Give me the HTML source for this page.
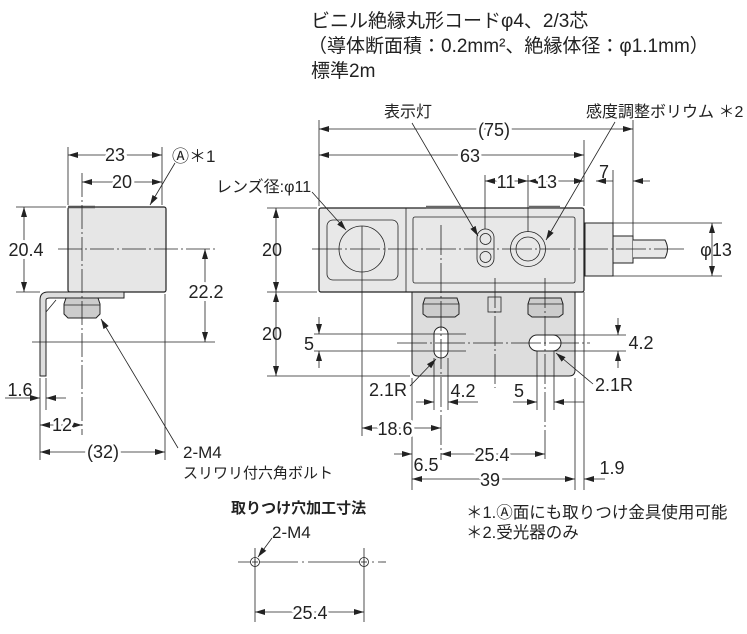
<!DOCTYPE html>
<html><head><meta charset="utf-8"><style>
html,body{margin:0;padding:0;background:#fff;}
svg{display:block;}
text{font-family:"Liberation Sans","Noto Sans CJK JP",sans-serif;fill:#222;}
.d{font-size:18px;text-anchor:middle;stroke:#fff;stroke-width:6px;paint-order:stroke;stroke-linejoin:round;}
</style></head><body>
<svg width="747" height="634" viewBox="0 0 747 634" xmlns="http://www.w3.org/2000/svg">
<defs>
<marker id="a" viewBox="0 0 10 6" refX="10" refY="3" markerWidth="10" markerHeight="6" orient="auto-start-reverse" markerUnits="userSpaceOnUse"><path d="M0,0L10,3L0,6z" fill="#222"/></marker>
</defs>
<g font-size="19">
<text x="311" y="27">ビニル絶縁丸形コードφ4、2/3芯</text>
<text x="308" y="52">（導体断面積：0.2mm²、絶縁体径：φ1.1mm）</text>
<text x="311" y="77">標準2m</text>
</g>

<!-- LEFT VIEW -->
<g stroke="#222" fill="none" stroke-width="0.8">
<rect x="68" y="207" width="98" height="85" rx="2" fill="#e6e6e6" stroke-width="1.2"/>
<line x1="68" y1="207" x2="95" y2="207" stroke-width="2.5" stroke="#555"/>
<path d="M46,376 L46,300 Q46,298 50,298 L124,298 L124,292 L48,292 Q40,292 40,300 L40,376 Z" fill="#ddd" stroke-width="1"/>
<line x1="46" y1="312" x2="56" y2="300"/>
<path d="M66,298 L98,298 L100,304 L100,314 L96,318 L68,318 L64,314 L64,304 Z" fill="#ccc" stroke-width="1"/>
<line x1="64" y1="305" x2="100" y2="305"/>
<line x1="82" y1="173" x2="82" y2="435" stroke-dasharray="24,3,2,3"/>
<line x1="58" y1="249" x2="215" y2="249" stroke-dasharray="24,3,2,3"/>
<line x1="68" y1="147" x2="68" y2="205"/>
<line x1="162" y1="147" x2="162" y2="205"/>
<line x1="68" y1="155" x2="162" y2="155" marker-start="url(#a)" marker-end="url(#a)"/>
<line x1="82" y1="182" x2="162" y2="182" marker-start="url(#a)" marker-end="url(#a)"/>
<line x1="16" y1="207" x2="66" y2="207"/>
<line x1="16" y1="292" x2="40" y2="292"/>
<line x1="24" y1="207" x2="24" y2="292" marker-start="url(#a)" marker-end="url(#a)"/>
<line x1="32" y1="342" x2="215" y2="342"/>
<line x1="205" y1="249" x2="205" y2="342" marker-start="url(#a)" marker-end="url(#a)"/>
<line x1="40" y1="378" x2="40" y2="460"/>
<line x1="46" y1="378" x2="46" y2="410"/>
<line x1="165" y1="294" x2="165" y2="460"/>
<line x1="5" y1="398" x2="40" y2="398" marker-end="url(#a)"/>
<line x1="66" y1="398" x2="46" y2="398" marker-end="url(#a)"/>
<line x1="40" y1="425" x2="82" y2="425" marker-start="url(#a)" marker-end="url(#a)"/>
<line x1="40" y1="452" x2="165" y2="452" marker-start="url(#a)" marker-end="url(#a)"/>
<line x1="175" y1="163" x2="150" y2="205" marker-end="url(#a)"/>
<line x1="178" y1="448" x2="101" y2="319" marker-end="url(#a)"/>
</g>
<text class="d" x="115" y="161">23</text>
<text class="d" x="122" y="188">20</text>
<text class="d" x="26" y="256">20.4</text>
<text class="d" x="206" y="298">22.2</text>
<text class="d" x="20" y="396" style="stroke:none">1.6</text>
<text class="d" x="62" y="431">12</text>
<text class="d" x="103" y="458">(32)</text>
<text x="172" y="162" font-size="17">Ⓐ＊1</text>
<text x="183" y="458" font-size="17">2-M4</text>
<text x="183" y="478" font-size="15">スリワリ付六角ボルト</text>

<!-- FRONT VIEW -->
<g stroke="#222" fill="none" stroke-width="0.8">
<path d="M412,292 L575,292 L575,370 Q575,376 569,376 L418,376 Q412,376 412,370 Z" fill="#ddd" stroke-width="1"/>
<rect x="319" y="208" width="265" height="84" rx="2" fill="#e8e8e8" stroke-width="1.2"/>
<line x1="426" y1="207" x2="460" y2="207" stroke-width="2.5" stroke="#666"/>
<line x1="529" y1="207" x2="560" y2="207" stroke-width="2.5" stroke="#666"/>
<line x1="406" y1="208" x2="406" y2="292"/>
<rect x="327" y="220" width="71" height="60" rx="6"/>
<circle cx="362" cy="249" r="23"/>
<rect x="413" y="217" width="162" height="66" rx="2"/>
<rect x="477" y="229" width="17" height="38" rx="8.5"/>
<circle cx="485.5" cy="239" r="5.5"/>
<circle cx="485.5" cy="257" r="5.5"/>
<circle cx="528" cy="249" r="17.5"/>
<circle cx="528" cy="249" r="12"/>
<rect x="585" y="223" width="28" height="53" fill="#e8e8e8" stroke-width="1"/>
<rect x="613" y="236" width="20" height="27" fill="#e8e8e8" stroke-width="1"/>
<path d="M633,240 L665,240 Q670,249 665,258 L633,258" fill="#e8e8e8" stroke-width="1"/>
<path d="M425,298 L457,298 L459,304 L459,314 L455,317 L427,317 L423,314 L423,304 Z" fill="#ccc" stroke-width="1"/>
<line x1="423" y1="304" x2="459" y2="304"/>
<path d="M530,298 L561,298 L563,304 L563,314 L559,317 L532,317 L528,314 L528,304 Z" fill="#ccc" stroke-width="1"/>
<line x1="528" y1="304" x2="563" y2="304"/>
<rect x="488" y="297" width="13" height="15" fill="#ddd"/>
<rect x="434" y="327" width="14" height="31" rx="7" fill="#fff" stroke-width="1"/>
<rect x="529" y="335" width="32" height="16" rx="8" fill="#fff" stroke-width="1"/>
<line x1="312" y1="249" x2="686" y2="249" stroke-dasharray="30,3,2,3"/>
<line x1="397" y1="343" x2="590" y2="343" stroke-dasharray="30,3,2,3"/>
<line x1="362" y1="226" x2="362" y2="436"/>
<line x1="441" y1="225" x2="441" y2="460" stroke-dasharray="30,3,2,3"/>
<line x1="495" y1="278" x2="495" y2="388" stroke-dasharray="30,3,2,3"/>
<line x1="545" y1="278" x2="545" y2="459" stroke-dasharray="30,3,2,3"/>
<line x1="434" y1="358" x2="434" y2="410"/>
<line x1="448" y1="358" x2="448" y2="410"/>
<line x1="537" y1="351" x2="537" y2="410"/>
<line x1="554" y1="351" x2="554" y2="410"/>
<line x1="412" y1="378" x2="412" y2="490"/>
<line x1="575" y1="378" x2="575" y2="490"/>
<line x1="584" y1="292" x2="584" y2="490"/>
<line x1="319" y1="120" x2="319" y2="206"/>
<line x1="584" y1="140" x2="584" y2="206"/>
<line x1="633" y1="120" x2="633" y2="236"/>
<line x1="613" y1="170" x2="613" y2="223"/>
<line x1="485" y1="175" x2="485" y2="229"/>
<line x1="528" y1="175" x2="528" y2="232"/>
<line x1="319" y1="129" x2="633" y2="129" marker-start="url(#a)" marker-end="url(#a)"/>
<line x1="319" y1="155" x2="584" y2="155" marker-start="url(#a)" marker-end="url(#a)"/>
<line x1="485" y1="181" x2="528" y2="181" marker-start="url(#a)" marker-end="url(#a)"/>
<line x1="528" y1="181" x2="584" y2="181" marker-start="url(#a)" marker-end="url(#a)"/>
<line x1="596" y1="181" x2="613" y2="181" marker-start="url(#a)"/>
<line x1="633" y1="181" x2="650" y2="181" marker-start="url(#a)"/>
<line x1="613" y1="223" x2="722" y2="223"/>
<line x1="613" y1="276" x2="722" y2="276"/>
<line x1="712" y1="223" x2="712" y2="276" marker-start="url(#a)" marker-end="url(#a)"/>
<line x1="412" y1="123" x2="478" y2="236" marker-end="url(#a)"/>
<line x1="615" y1="122" x2="546" y2="240" marker-end="url(#a)"/>
<line x1="312" y1="192" x2="346" y2="230" marker-end="url(#a)"/>
<line x1="267" y1="208" x2="317" y2="208"/>
<line x1="267" y1="292" x2="317" y2="292"/>
<line x1="267" y1="376" x2="410" y2="376"/>
<line x1="276" y1="208" x2="276" y2="292" marker-start="url(#a)" marker-end="url(#a)"/>
<line x1="276" y1="292" x2="276" y2="376" marker-start="url(#a)" marker-end="url(#a)"/>
<line x1="314" y1="334" x2="466" y2="334"/>
<line x1="314" y1="351" x2="466" y2="351"/>
<line x1="319" y1="317" x2="319" y2="334" marker-end="url(#a)"/>
<line x1="319" y1="368" x2="319" y2="351" marker-end="url(#a)"/>
<line x1="553" y1="335" x2="626" y2="335"/>
<line x1="553" y1="351" x2="626" y2="351"/>
<line x1="618" y1="318" x2="618" y2="335" marker-end="url(#a)"/>
<line x1="618" y1="368" x2="618" y2="351" marker-end="url(#a)"/>
<line x1="410" y1="386" x2="436" y2="359" marker-end="url(#a)"/>
<line x1="593" y1="384" x2="556" y2="353" marker-end="url(#a)"/>
<line x1="416" y1="402" x2="434" y2="402" marker-end="url(#a)"/>
<line x1="478" y1="402" x2="448" y2="402" marker-end="url(#a)"/>
<line x1="513" y1="402" x2="537" y2="402" marker-end="url(#a)"/>
<line x1="584" y1="402" x2="554" y2="402" marker-end="url(#a)"/>
<line x1="362" y1="428" x2="441" y2="428" marker-start="url(#a)" marker-end="url(#a)"/>
<line x1="394" y1="454" x2="412" y2="454" marker-end="url(#a)"/>
<line x1="441" y1="454" x2="545" y2="454" marker-start="url(#a)" marker-end="url(#a)"/>
<line x1="412" y1="479" x2="575" y2="479" marker-start="url(#a)" marker-end="url(#a)"/>
<line x1="605" y1="479" x2="584" y2="479" marker-end="url(#a)"/>
</g>
<text x="384" y="117" font-size="16">表示灯</text>
<text x="586" y="117" font-size="16">感度調整ボリウム ＊2</text>
<text class="d" x="494" y="136">(75)</text>
<text class="d" x="470" y="162">63</text>
<text class="d" x="506" y="188">11</text>
<text class="d" x="547" y="188">13</text>
<text class="d" x="604" y="178" style="stroke:none">7</text>
<text x="216" y="192" font-size="16">レンズ径:φ11</text>
<text class="d" x="716" y="256" style="stroke:none">φ13</text>
<text class="d" x="272" y="256" style="stroke:none">20</text>
<text class="d" x="272" y="340" style="stroke:none">20</text>
<text class="d" x="309" y="350" style="stroke:none">5</text>
<text class="d" x="641" y="349" style="stroke:none">4.2</text>
<text class="d" x="388" y="396" style="stroke:none">2.1R</text>
<text class="d" x="614" y="391" style="stroke:none">2.1R</text>
<text class="d" x="463" y="397" style="stroke:none">4.2</text>
<text class="d" x="519" y="397" style="stroke:none">5</text>
<text class="d" x="395" y="435">18.6</text>
<text class="d" x="492" y="461">25.4</text>
<text class="d" x="426" y="471" style="stroke:none">6.5</text>
<text class="d" x="490" y="486">39</text>
<text class="d" x="612" y="474" style="stroke:none">1.9</text>

<!-- mounting holes -->
<g stroke="#222" fill="none" stroke-width="0.8">
<line x1="238" y1="562" x2="386" y2="562" stroke-dasharray="60,4,2,4"/>
<circle cx="255" cy="562" r="4.5" fill="#fff"/>
<circle cx="364" cy="562" r="4.5" fill="#fff"/>
<line x1="252" y1="562" x2="258" y2="562"/><line x1="255" y1="559" x2="255" y2="565"/>
<line x1="361" y1="562" x2="367" y2="562"/><line x1="364" y1="559" x2="364" y2="565"/>
<line x1="255" y1="548" x2="255" y2="622"/>
<line x1="364" y1="548" x2="364" y2="622"/>
<line x1="255" y1="612" x2="364" y2="612" marker-start="url(#a)" marker-end="url(#a)"/>
<line x1="272" y1="538" x2="258" y2="557" marker-end="url(#a)"/>
</g>
<text x="231" y="513" font-weight="bold" font-size="15">取りつけ穴加工寸法</text>
<text x="272" y="538" font-size="17">2-M4</text>
<text class="d" x="310" y="619">25.4</text>
<text x="466" y="518" font-size="16.5">＊1.Ⓐ面にも取りつけ金具使用可能</text>
<text x="466" y="538" font-size="16.5">＊2.受光器のみ</text>
</svg>
</body></html>
